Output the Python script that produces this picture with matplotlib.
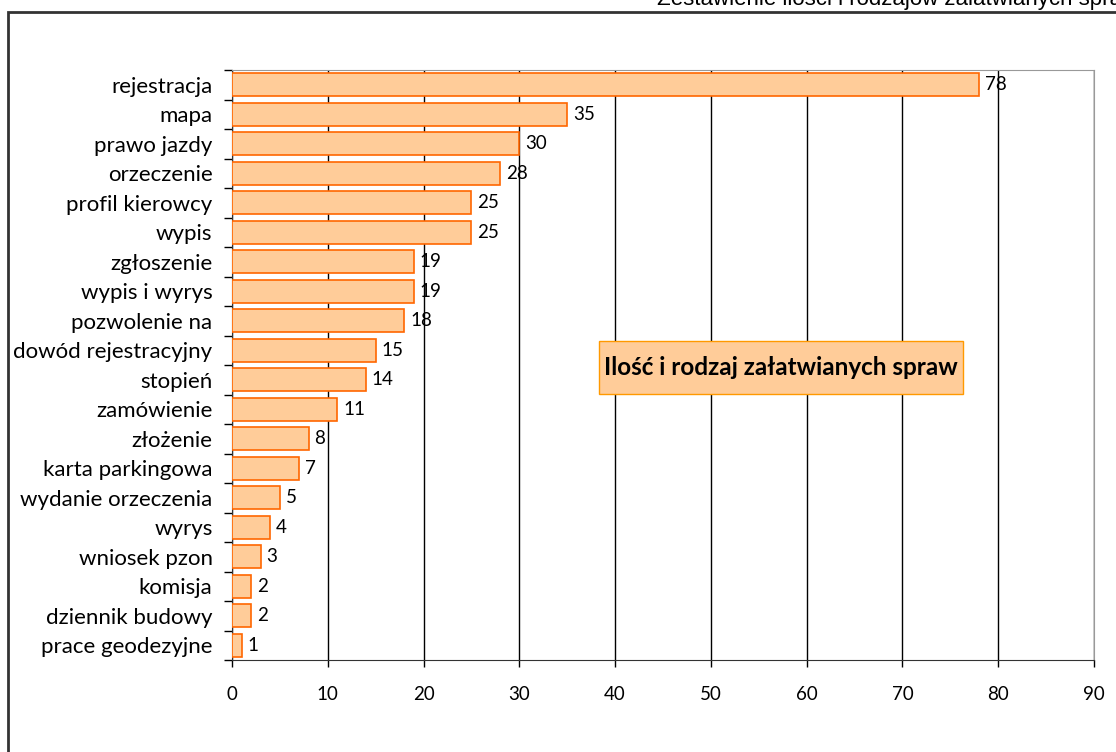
import numpy as np
import matplotlib.pyplot as plt
from matplotlib.patches import Rectangle

# liczba spraw wg rodzaju
rodzaje = ["rejestracja", "mapa", "prawo jazdy", "orzeczenie", "profil kierowcy",
           "wypis", "zgłoszenie", "wypis i wyrys", "pozwolenie na", "dowód rejestracyjny",
           "stopień", "zamówienie", "złożenie", "karta parkingowa", "wydanie orzeczenia",
           "wyrys", "wniosek pzon", "komisja", "dziennik budowy", "prace geodezyjne"]
ilosc = [78, 35, 30, 28, 25, 25, 19, 19, 18, 15, 14, 11, 8, 7, 5, 4, 3, 2, 2, 1]
x_ticks = [0, 10, 20, 30, 40, 50, 60, 70, 80, 90]

plt.rcParams['font.family'] = ['Lato', 'DejaVu Sans']

fig = plt.figure(figsize=(11.16, 7.52), dpi=100)
ax = fig.add_axes([0.2079, 0.1223, 0.7724, 0.7846])

n = len(rodzaje)
y = np.arange(n)[::-1]
ax.barh(y, ilosc, height=0.78, color="#FFCC99", edgecolor="#FF6600", linewidth=1.2, zorder=3)
for yi, v in zip(y, ilosc):
    ax.text(v + 0.6, yi, str(v), va="center", ha="left", fontsize=13.5, zorder=4)

ax.set_xlim(0, 90)
ax.set_ylim(-0.5, n - 0.5)
ax.set_xticks(x_ticks)
ax.set_xticklabels([str(t) for t in x_ticks], fontsize=13.5)
ax.set_yticks(y)
ax.set_yticklabels(rodzaje, fontsize=16)
ax.tick_params(axis="y", which="major", length=0, pad=14)
ax.set_yticks(np.arange(n + 1) - 0.5, minor=True)
ax.tick_params(axis="y", which="minor", length=6, width=1, direction="out")
ax.tick_params(axis="x", length=5, width=1, direction="out", pad=14)
ax.xaxis.grid(True, color="black", linewidth=1, zorder=0)
ax.set_axisbelow(True)

for s in ["top", "right"]:
    ax.spines[s].set_color("#999999")
for s in ["left", "bottom"]:
    ax.spines[s].set_color("#333333")

# opis serii w ramce
ax.add_patch(Rectangle((0.4258, 0.4508), 0.4222, 0.0899, transform=ax.transAxes,
                       facecolor="#FFCC99", edgecolor="#FF9900", linewidth=1, zorder=5))
ax.text(0.637, 0.496, "Ilość i rodzaj załatwianych spraw", transform=ax.transAxes,
        ha="center", va="center", fontsize=17.5, fontweight="bold", zorder=6)

# ramka wykresu
fig.add_artist(Rectangle((8 / 1116, -0.1), 1.2, 1.1 - 12 / 752, transform=fig.transFigure,
                         fill=False, edgecolor="#333333", linewidth=2))

fig.text(657 / 1116, 1 - 5 / 752, "Zestawienie ilości i rodzajów załatwianych spraw",
         family="Liberation Sans", fontsize=16, ha="left", va="baseline")

fig.savefig("out.png", dpi=100)
